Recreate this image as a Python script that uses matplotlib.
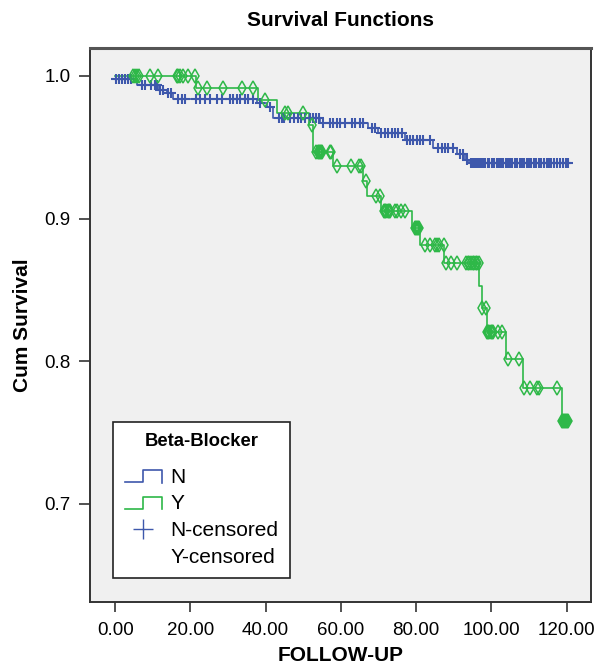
import numpy as np
import matplotlib
matplotlib.use("Agg")
import matplotlib.pyplot as plt
from matplotlib.lines import Line2D
from matplotlib.legend_handler import HandlerBase

plt.rcParams['font.family'] = ['Liberation Sans', 'DejaVu Sans']

# Kaplan-Meier steps, group N (no beta-blocker)
n_times = [0, 5.7, 11.4, 13.7, 15.3, 37.6, 40.3, 41.9, 54.5, 67.3, 69.9,
           77.0, 84.6, 90.8, 93.0, 94.0]
n_surv = [0.998, 0.9937, 0.9902, 0.9883, 0.9837, 0.9809, 0.9783, 0.9706,
          0.9668, 0.9633, 0.9600, 0.9552, 0.9498, 0.9451, 0.9410, 0.9388]
n_end = 121.0
n_censored = [0.3, 1.0, 1.8, 2.6, 3.4, 4.3, 7.0, 7.9, 9.4, 10.6, 11.0,
              12.0, 12.6, 14.1, 14.9, 16.8, 17.7, 18.5, 21.6, 22.5, 23.9,
              25.2, 27.0, 28.3, 30.5, 31.4, 32.3, 33.2, 34.5, 35.4, 36.7,
              38.5, 41.1, 43.5, 44.4, 45.0, 46.5, 47.6, 48.5, 49.5, 50.5,
              51.8, 52.5, 53.4, 54.2, 55.3, 57.1, 58.0, 58.9, 59.8, 61.1,
              63.0, 63.8, 65.1, 65.9, 68.2, 69.1, 70.8, 71.7, 72.6, 73.5,
              74.4, 75.3, 76.2, 77.5, 78.4, 79.3, 80.2, 81.0, 81.9, 83.7,
              85.9, 86.8, 87.7, 88.6, 89.9, 91.7, 92.6, 93.5, 94.5, 95.0,
              95.6, 96.1, 96.7, 97.2, 97.8, 98.4, 99.0, 99.5, 100.1, 100.8,
              101.4, 102.0, 102.5, 103.1, 103.8, 104.4, 105.0, 105.6, 106.2,
              106.9, 107.5, 108.1, 108.8, 109.4, 110.0, 110.6, 111.3, 112.0,
              112.6, 113.3, 114.0, 114.7, 115.4, 116.0, 116.8, 117.5, 118.3,
              119.0, 119.8, 120.5]

# group Y (beta-blocker)
y_times = [0, 21.6, 38.0, 42.9, 51.6, 52.7, 57.8, 65.8, 67.0, 70.8, 78.8,
           81.0, 87.5, 96.7, 97.4, 98.8, 103.9, 108.5, 118.7]
y_surv = [1.0, 0.9918, 0.9832, 0.9743, 0.9657, 0.9470, 0.9370, 0.9266,
          0.9159, 0.9054, 0.8937, 0.8816, 0.8687, 0.8530, 0.8372, 0.8204,
          0.8015, 0.7816, 0.7584]
y_end = 120.5
y_censored = [4.8, 5.2, 5.7, 6.4, 9.2, 11.4, 16.5, 16.8, 17.2, 18.1, 19.4,
              21.2, 22.1, 24.3, 28.7, 33.8, 36.7, 39.8, 45.1, 46.0, 50.0,
              52.2, 53.5, 53.8, 54.1, 54.4, 54.7, 55.0, 57.1, 57.5, 58.9,
              62.7, 64.9, 65.3, 66.6, 69.3, 70.4, 71.5, 71.8, 72.1, 72.4,
              72.7, 73.0, 74.4, 75.0, 75.9, 77.0, 79.7, 80.0, 80.3, 80.6,
              80.8, 82.4, 83.7, 85.0, 85.6, 86.2, 87.4, 87.9, 89.3, 90.8,
              93.3, 93.8, 94.2, 94.6, 95.0, 95.4, 95.8, 96.2, 96.6, 97.6,
              98.6, 98.9, 99.2, 99.5, 99.8, 100.1, 100.5, 101.9, 102.8,
              104.4, 107.4, 108.7, 110.3, 112.2, 112.8, 117.4, 118.7, 119.0,
              119.3, 119.6, 119.9, 120.2, 120.5]

x_ticks = [0, 20, 40, 60, 80, 100, 120]
y_ticks = [0.7, 0.8, 0.9, 1.0]

blue = '#3e58ac'
green = '#2eb848'


def level_at(times, surv, t):
    i = np.searchsorted(times, t, side='right') - 1
    return np.array(surv)[i]


class StepHandler(HandlerBase):
    def create_artists(self, legend, orig_handle, xdescent, ydescent,
                       width, height, fontsize, trans):
        x0, y0 = -xdescent, -ydescent
        xm = x0 + 0.48 * width
        lo, hi = y0 + 0.05 * height, y0 + 0.85 * height
        line = Line2D([x0, xm, xm, x0 + width, x0 + width],
                      [lo, lo, hi, hi, lo - 0.05 * height],
                      color=orig_handle.get_color(), lw=1.2)
        line.set_transform(trans)
        return [line]


fig = plt.figure(figsize=(5.97, 6.70), dpi=100)
ax = fig.add_axes([0.1508, 0.1015, 0.8391, 0.8269])
ax.set_facecolor('#f0f0f0')

n_line, = ax.step(n_times + [n_end], n_surv + [n_surv[-1]], where='post',
                  color=blue, lw=1.2)
y_line, = ax.step(y_times + [y_end], y_surv + [y_surv[-1]], where='post',
                  color=green, lw=1.2)
ax.plot(n_censored, level_at(n_times, n_surv, n_censored),
        linestyle='none', marker='+', color=blue, ms=7.5, mew=1.5)
ax.plot(y_censored, level_at(y_times, y_surv, y_censored),
        linestyle='none', marker='d', mfc='none', mec=green, ms=7, mew=1.1)

ax.set_xlim(-6.7, 126.5)
ax.set_ylim(0.6313, 1.0196)
ax.set_xticks(x_ticks)
ax.set_xticklabels(['%.2f' % v for v in x_ticks])
ax.set_yticks(y_ticks)
ax.set_yticklabels(['%.1f' % v for v in y_ticks])
ax.tick_params(axis='x', direction='out', length=7.5, width=1.1, pad=7,
               labelsize=13.5, color='#222222')
ax.tick_params(axis='y', direction='out', length=8, width=1.1, pad=6,
               labelsize=13.5, color='#222222')
for s in ax.spines.values():
    s.set_color('#333333')
    s.set_linewidth(1.4)
ax.spines['top'].set_color('#555555')
ax.spines['top'].set_linewidth(2.2)

ax.set_xlabel('FOLLOW-UP', fontsize=15, fontweight='bold')
ax.xaxis.set_label_coords(0.5, -0.0957)
ax.xaxis.label.set_va('center')
ax.set_ylabel('Cum Survival', fontsize=15, fontweight='bold')
ax.yaxis.set_label_coords(-0.1357, 0.5)
ax.yaxis.label.set_va('center')
fig.text(0.5704, 1 - 21 / 670, 'Survival Functions', fontsize=15,
         fontweight='bold', ha='center', va='center')

blank = Line2D([], [], linestyle='none')
big_plus = Line2D([], [], linestyle='none', marker='+', color=blue,
                  ms=15, mew=1.0)
leg = ax.legend([n_line, y_line, big_plus, blank],
                ['N', 'Y', 'N-censored', 'Y-censored'],
                handler_map={n_line: StepHandler(), y_line: StepHandler()},
                title='Beta-Blocker', loc='lower left',
                bbox_to_anchor=(0.046, 0.043), borderaxespad=0,
                fontsize=15, title_fontproperties={'weight': 'bold', 'size': 13.3},
                frameon=True, fancybox=False, edgecolor='#222222',
                framealpha=1, handlelength=1.8, handletextpad=0.4,
                labelspacing=0.37, borderpad=0.55)
leg.get_frame().set_linewidth(1.2)
leg.get_frame().set_facecolor('white')
leg._legend_box.sep = 12.5

fig.savefig('out.png', dpi=100)
